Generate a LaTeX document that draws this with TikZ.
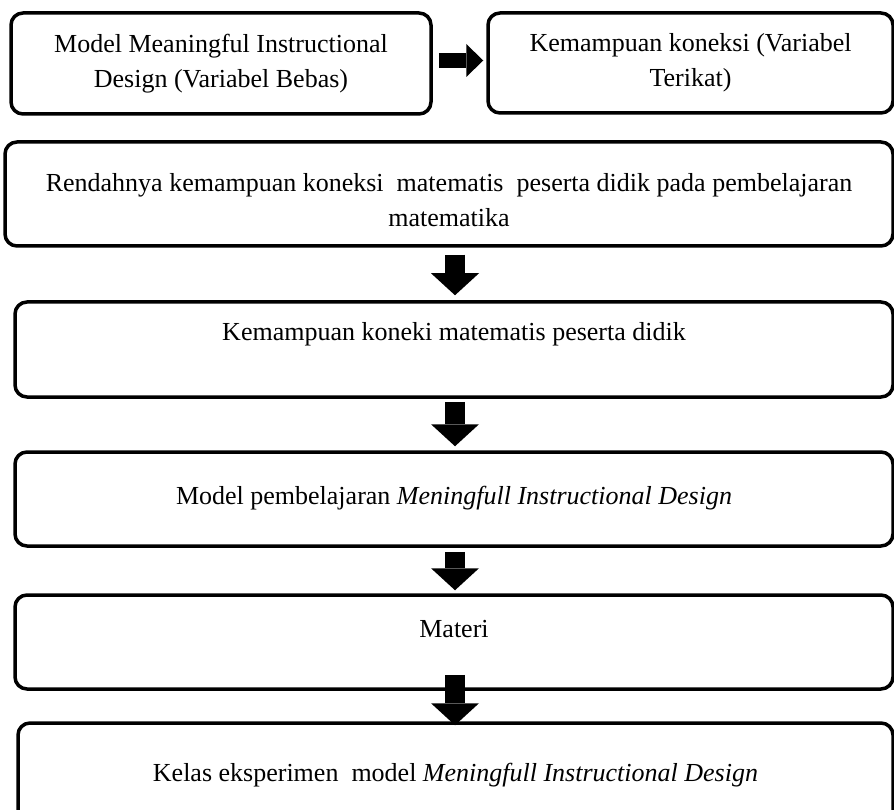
\documentclass[tikz,border=0pt]{standalone}
\usepackage{fontspec}
\setmainfont{Liberation Serif}
\usetikzlibrary{arrows.meta}

\tikzset{
  box/.style={draw, line width=3.5pt, rounded corners=12pt, inner sep=0pt,
    align=center, font=\fontsize{26}{35}\selectfont},
  downarrow/.style={line width=20pt,
    -{Triangle[width=48pt, length=22pt, line width=0pt]}},
  rightarrow/.style={line width=15pt,
    -{Triangle[width=33pt, length=17pt, line width=0pt]}}
}

\begin{document}
\begin{tikzpicture}[x=1pt, y=-1pt]

    \useasboundingbox (0,0) rectangle (894,810);
    \clip (0,0) rectangle (894,810);

    % top row
    \node[box, minimum width=420pt, minimum height=101pt] (bebas) at (221,63.5)
      {Model Meaningful Instructional\\Design (Variabel Bebas)};
    \node[box, minimum width=405pt, minimum height=100pt] (terikat) at (690.5,63)
      {Kemampuan koneksi (Variabel\\Terikat)};

    % flow boxes
    \node[box, minimum width=888pt, minimum height=104pt] (masalah) at (449,194)
      {\rule{0pt}{30pt}Rendahnya kemampuan koneksi~ matematis~ peserta didik pada pembelajaran\\matematika};
    \node[box, minimum width=878pt, text height=38pt, text depth=57pt] (koneksi) at (454,349.5)
      {Kemampuan koneki matematis peserta didik};
    \node[box, minimum width=878pt, text height=52pt, text depth=42pt] (model) at (454,499)
      {Model pembelajaran \textit{Meningfull Instructional Design}};
    \node[box, minimum width=878pt, text height=42pt, text depth=52pt] (materi) at (454,642)
      {Materi};
    \node[box, minimum width=875pt, text height=58pt, text depth=54pt] (kelas) at (455.5,779)
      {Kelas eksperimen~ model \textit{Meningfull Instructional Design}};

    % Arrows
    \draw[rightarrow] ([xshift=6pt, yshift=3pt]bebas.east) -- ([xshift=-3pt, yshift=2.5pt]terikat.west);
    \draw[downarrow] ([xshift=6pt, yshift=-7pt]masalah.south) -- ([xshift=1pt, yshift=5pt]koneksi.north);
    \draw[downarrow] ([xshift=1pt, yshift=-3pt]koneksi.south) -- ([xshift=1pt, yshift=4pt]model.north);
    \draw[downarrow] ([xshift=1pt, yshift=-4pt]model.south) -- ([xshift=1pt, yshift=3pt]materi.north);
    \draw[downarrow] ([xshift=1pt, yshift=16pt]materi.south) -- ([xshift=-0.5pt, yshift=-4pt]kelas.north);

\end{tikzpicture}
\end{document}
